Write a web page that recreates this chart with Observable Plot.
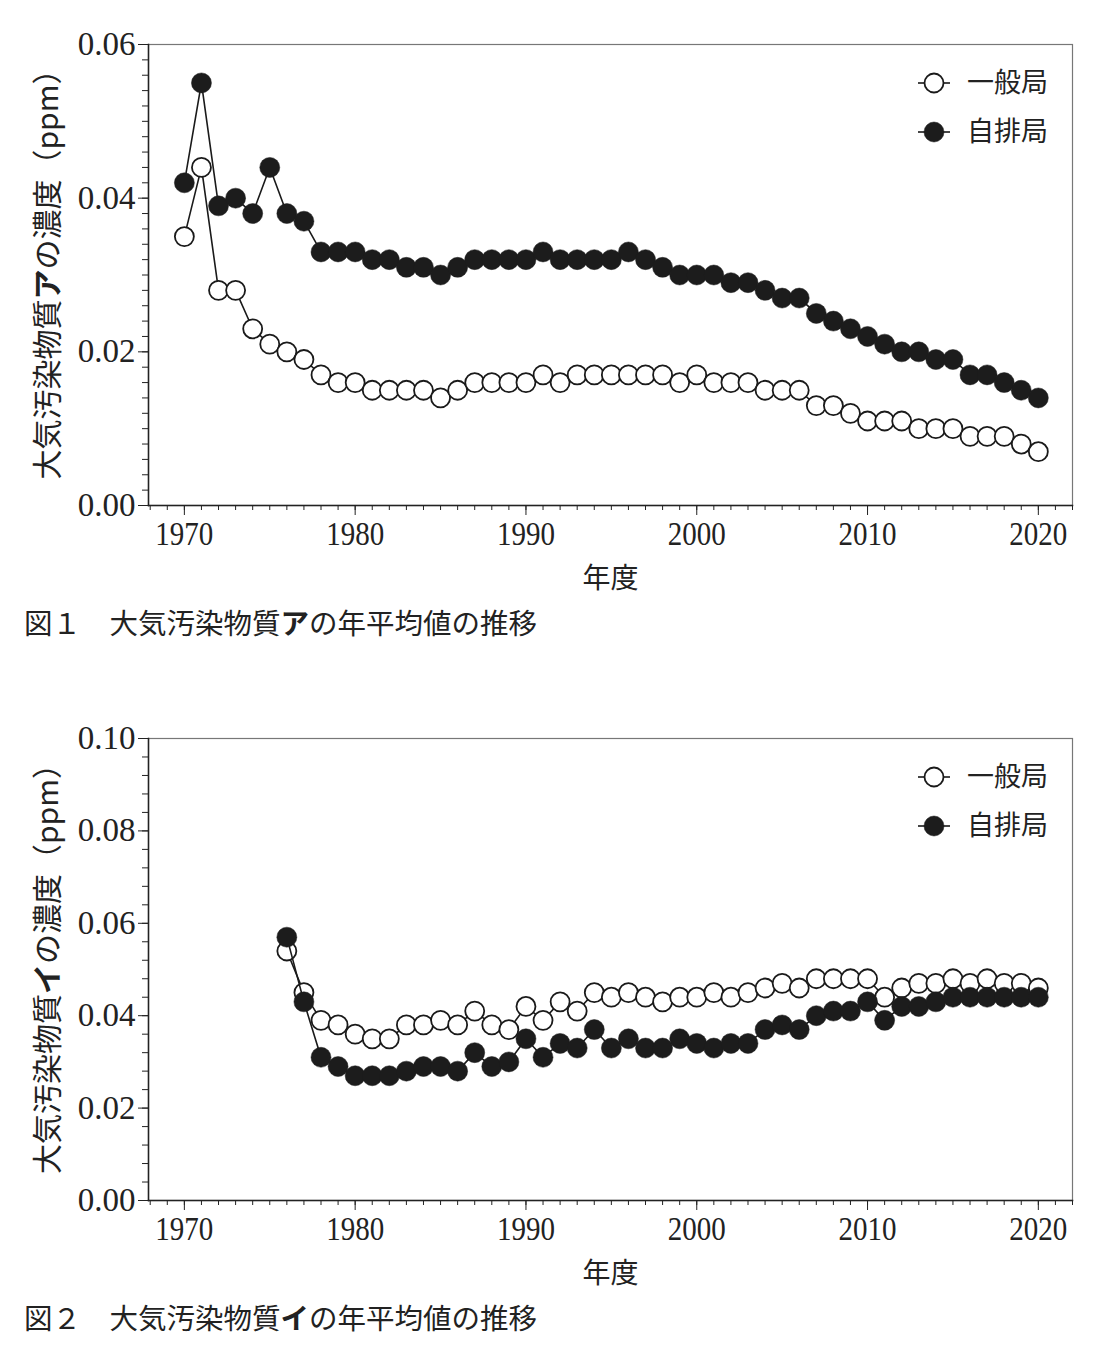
<!DOCTYPE html>
<html><head><meta charset="utf-8">
<script src="https://cdn.jsdelivr.net/npm/d3@7"></script>
<script src="https://cdn.jsdelivr.net/npm/@observablehq/plot@0.6"></script>
<style>
body{margin:0;background:#fff;width:1106px}
.cap{height:44px;line-height:44px;padding-left:24px;font-family:"Noto Sans CJK JP";font-size:28.5px;color:#222;white-space:pre}
.cap b{font-weight:700}
g[aria-label="y-axis label"] text{font-family:"Noto Sans CJK JP";font-size:30px}
g[aria-label="x-axis label"] text{font-family:"Noto Sans CJK JP";font-size:28px}
svg{display:block}
</style></head><body>
<div id="c1"></div><div class="cap">図１　大気汚染物質<b>ア</b>の年平均値の推移</div>
<div id="c2"></div><div class="cap">図２　大気汚染物質<b>イ</b>の年平均値の推移</div>
<script>
const series = ["一般局", "自排局"];
const years1 = [1970,1971,1972,1973,1974,1975,1976,1977,1978,1979,1980,1981,1982,1983,1984,1985,1986,1987,1988,1989,1990,1991,1992,1993,1994,1995,1996,1997,1998,1999,2000,2001,2002,2003,2004,2005,2006,2007,2008,2009,2010,2011,2012,2013,2014,2015,2016,2017,2018,2019,2020];
const general1 = [0.035,0.044,0.028,0.028,0.023,0.021,0.020,0.019,0.017,0.016,
  0.016,0.015,0.015,0.015,0.015,0.014,0.015,0.016,0.016,0.016,
  0.016,0.017,0.016,0.017,0.017,0.017,0.017,0.017,0.017,0.016,
  0.017,0.016,0.016,0.016,0.015,0.015,0.015,0.013,0.013,0.012,
  0.011,0.011,0.011,0.010,0.010,0.010,0.009,0.009,0.009,0.008,
  0.007];
const roadside1 = [0.042,0.055,0.039,0.040,0.038,0.044,0.038,0.037,0.033,0.033,
  0.033,0.032,0.032,0.031,0.031,0.030,0.031,0.032,0.032,0.032,
  0.032,0.033,0.032,0.032,0.032,0.032,0.033,0.032,0.031,0.030,
  0.030,0.030,0.029,0.029,0.028,0.027,0.027,0.025,0.024,0.023,
  0.022,0.021,0.020,0.020,0.019,0.019,0.017,0.017,0.016,0.015,
  0.014];
const years2 = [1976,1977,1978,1979,1980,1981,1982,1983,1984,1985,1986,1987,1988,1989,1990,1991,1992,1993,1994,1995,1996,1997,1998,1999,2000,2001,2002,2003,2004,2005,2006,2007,2008,2009,2010,2011,2012,2013,2014,2015,2016,2017,2018,2019,2020];
const general2 = [0.054,0.045,0.039,0.038,
  0.036,0.035,0.035,0.038,0.038,0.039,0.038,0.041,0.038,0.037,
  0.042,0.039,0.043,0.041,0.045,0.044,0.045,0.044,0.043,0.044,
  0.044,0.045,0.044,0.045,0.046,0.047,0.046,0.048,0.048,0.048,
  0.048,0.044,0.046,0.047,0.047,0.048,0.047,0.048,0.047,0.047,
  0.046];
const roadside2 = [0.057,0.043,0.031,0.029,
  0.027,0.027,0.027,0.028,0.029,0.029,0.028,0.032,0.029,0.030,
  0.035,0.031,0.034,0.033,0.037,0.033,0.035,0.033,0.033,0.035,
  0.034,0.033,0.034,0.034,0.037,0.038,0.037,0.040,0.041,0.041,
  0.043,0.039,0.042,0.042,0.043,0.044,0.044,0.044,0.044,0.044,
  0.044];
const xMajor = [1970,1980,1990,2000,2010,2020];
const xMinor = [1968,1969,1970,1971,1972,1973,1974,1975,1976,1977,1978,1979,1980,1981,1982,1983,1984,1985,1986,1987,1988,1989,1990,1991,1992,1993,1994,1995,1996,1997,1998,1999,2000,2001,2002,2003,2004,2005,2006,2007,2008,2009,2010,2011,2012,2013,2014,2015,2016,2017,2018,2019,2020,2021,2022];
const yMajor1 = [0, 0.02, 0.04, 0.06];
const yMajor2 = [0, 0.02, 0.04, 0.06, 0.08, 0.10];

function chart({years, general, roadside, yMax, yMajor, yStep, height, marginTop, labelPre, labelBold, labelPost}) {
  const gen = years.map((y, i) => ({year: y, v: general[i], s: series[0]}));
  const road = years.map((y, i) => ({year: y, v: roadside[i], s: series[1]}));
  const yMinor = d3.range(0, Math.round(yMax / yStep) + 1).map(i => +(i * yStep).toFixed(4));
  const W = 1106, mL = 148, mR = 34, mB = 95;
  const plot = Plot.plot({
    width: W, height, marginLeft: mL, marginRight: mR, marginTop, marginBottom: mB,
    style: {fontFamily: "Liberation Serif", fontSize: "33px", color: "#222", background: "#fff", overflow: "visible"},
    x: {domain: [1967.9, 2022]},
    y: {domain: [0, yMax]},
    marks: [
      Plot.frame({stroke: "#777", strokeWidth: 1.2}),
      Plot.frame({anchor: "left", stroke: "#222", strokeWidth: 1.5}),
      Plot.frame({anchor: "bottom", stroke: "#222", strokeWidth: 1.5}),
      Plot.axisY({ticks: yMinor, tickSize: 6, tickFormat: () => "", label: null, stroke: "#222"}),
      Plot.axisY({ticks: yMajor, tickSize: 10, tickPadding: 3, tickFormat: d => d.toFixed(2), label: labelPre + labelBold + labelPost, labelAnchor: "center", labelOffset: 112, labelArrow: "none", stroke: "#222"}),
      Plot.axisX({ticks: xMinor, tickSize: 5, tickFormat: () => "", label: null, stroke: "#222"}),
      Plot.axisX({ticks: xMajor, tickSize: 10, tickPadding: 6, tickFormat: d => String(d), label: "年度", labelAnchor: "center", labelOffset: 82, labelArrow: "none", stroke: "#222"}),
      Plot.line(gen, {x: "year", y: "v", stroke: "#1a1a1a", strokeWidth: 1.6}),
      Plot.dot(gen, {x: "year", y: "v", r: 9.5, fill: "white", stroke: "#1a1a1a", strokeWidth: 1.8}),
      Plot.line(road, {x: "year", y: "v", stroke: "#1a1a1a", strokeWidth: 1.6}),
      Plot.dot(road, {x: "year", y: "v", r: 10, fill: "#1c1c1c", stroke: "#1c1c1c", strokeWidth: 0.5})
    ]
  });
  const svg = d3.select(plot);
  svg.selectAll('g[aria-label="x-axis tick label"] text').each(function() {
    if (this.textContent) d3.select(this).attr("textLength", 58).attr("lengthAdjust", "spacingAndGlyphs");
  });
  const lab = svg.select('g[aria-label="y-axis label"] text');
  if (!lab.empty()) {
    lab.text(null).attr("dx", 8);
    lab.append("tspan").text(labelPre);
    lab.append("tspan").attr("font-weight", 700).text(labelBold);
    lab.append("tspan").text(labelPost);
  }
  // legend
  const right = W - mR;
  const lg = svg.append("g").attr("font-family", "Noto Sans CJK JP").attr("font-size", 27).attr("fill", "#222").attr("text-anchor", "start");
  series.forEach((name, i) => {
    const cy = marginTop + 39 + i * 49;
    lg.append("line").attr("x1", right - 154).attr("x2", right - 122).attr("y1", cy).attr("y2", cy).attr("stroke", "#1a1a1a").attr("stroke-width", 1.6);
    lg.append("circle").attr("cx", right - 138).attr("cy", cy).attr("r", i ? 10 : 9.5)
      .attr("fill", i ? "#1c1c1c" : "white").attr("stroke", "#1a1a1a").attr("stroke-width", i ? 0.5 : 1.8);
    lg.append("text").attr("x", right - 105).attr("y", cy).attr("dy", "0.35em").attr("text-anchor", "start").text(name);
  });
  return plot;
}

document.getElementById("c1").appendChild(chart({years: years1, general: general1, roadside: roadside1, yMax: 0.06, yMajor: yMajor1, yStep: 0.002, height: 600, marginTop: 44, labelPre: "大気汚染物質", labelBold: "ア", labelPost: "の濃度（ppm）"}));
document.getElementById("c2").appendChild(chart({years: years2, general: general2, roadside: roadside2, yMax: 0.10, yMajor: yMajor2, yStep: 0.004, height: 651, marginTop: 94, labelPre: "大気汚染物質", labelBold: "イ", labelPost: "の濃度（ppm）"}));
</script>
</body></html>
